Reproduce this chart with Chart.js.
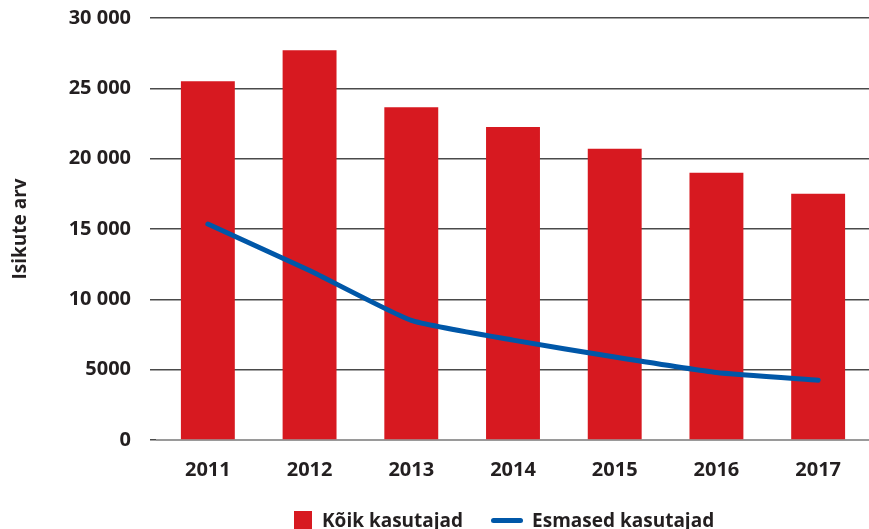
<!DOCTYPE html>
<html>
<head>
<meta charset="utf-8">
<script src="https://cdn.jsdelivr.net/npm/chart.js@4.4.1/dist/chart.umd.min.js"></script>
<style>
    html, body { margin: 0; padding: 0; background: #fff; }
    #wrap { position: relative; width: 869px; height: 529px; }
    #legend {
        position: absolute; left: 294px; top: 507px;
        display: flex; align-items: center;
        font: 700 19px "Open Sans", sans-serif; color: #231f20;
    }
    .sq { width: 18px; height: 18px; background: #d71920; margin-right: 10px; }
    .ln { width: 32px; height: 5px; border-radius: 3px; background: #0057a8; margin-left: 28px; margin-right: 9px; }
</style>
</head>
<body>
<div id="wrap">
    <canvas id="grafico" width="869" height="529"></canvas>
    <div id="legend">
        <div class="sq"></div><span id="lbl1"></span>
        <div class="ln"></div><span id="lbl2"></span>
    </div>
</div>
<script>
// Datos
const anios = ['2011', '2012', '2013', '2014', '2015', '2016', '2017'];
const koikKasutajad = [25500, 27700, 23650, 22250, 20700, 19000, 17500];
const esmasedKasutajad = [15350, 12050, 8500, 7100, 5900, 4800, 4250];
const serieNombres = ['Kõik kasutajad', 'Esmased kasutajad'];
const ejeY = { min: 0, max: 30000, paso: 5000, titulo: 'Isikute arv' };

document.getElementById('lbl1').textContent = serieNombres[0];
document.getElementById('lbl2').textContent = serieNombres[1];

// Formato estonio: espacio solo desde 10 000
function formatoNumero(v) {
    if (v < 10000) return String(v);
    return String(v).replace(/\B(?=(\d{3})+(?!\d))/g, ' ');
}

const fuente = { family: '"Open Sans", sans-serif', size: 20, weight: '700' };

const ctx = document.getElementById('grafico').getContext('2d');

new Chart(ctx, {
    data: {
        labels: anios,
        datasets: [
            {
                type: 'line',
                label: serieNombres[1],
                data: esmasedKasutajad,
                borderColor: '#0057a8',
                borderWidth: 5,
                borderCapStyle: 'round',
                pointRadius: 0,
                tension: 0.15,
                order: 0
            },
            {
                type: 'bar',
                label: serieNombres[0],
                data: koikKasutajad,
                backgroundColor: '#d71920',
                barPercentage: 0.53,
                categoryPercentage: 1,
                order: 1
            }
        ]
    },
    options: {
        responsive: false,
        animation: false,
        layout: { padding: { top: 18, right: 0, bottom: 0, left: 0 } },
        plugins: {
            legend: { display: false },
            tooltip: { enabled: false }
        },
        scales: {
            x: {
                grid: { display: false, drawTicks: false },
                border: { display: true, color: '#9a9a9a', width: 2 },
                ticks: { color: '#231f20', font: fuente, padding: 18 },
                afterFit: scale => { scale.height = 89; }
            },
            y: {
                min: ejeY.min,
                max: ejeY.max,
                grid: { color: '#4a4a4a', lineWidth: 1.5, drawTicks: true, tickLength: 7 },
                border: { display: false },
                ticks: {
                    stepSize: ejeY.paso,
                    color: '#231f20',
                    font: fuente,
                    padding: 19,
                    callback: v => formatoNumero(v)
                },
                title: {
                    display: true,
                    text: ejeY.titulo,
                    color: '#231f20',
                    font: { family: '"Open Sans", sans-serif', size: 19, weight: '700' },
                    padding: { top: 9, bottom: 4 }
                },
                afterFit: scale => {
                    scale.width = 157;
                    // que el padding de las etiquetas no empuje el área del gráfico
                    scale.paddingTop = 0;
                    scale.paddingBottom = 0;
                }
            }
        }
    }
});
</script>
</body>
</html>
